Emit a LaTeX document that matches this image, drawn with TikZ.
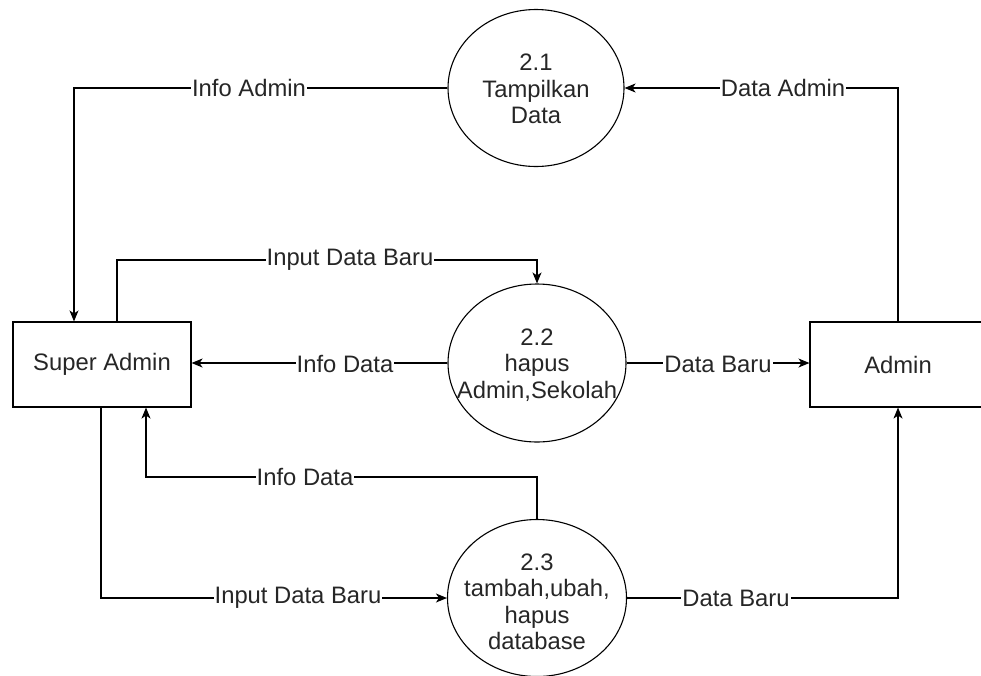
\documentclass[tikz,border=0pt]{standalone}
\usepackage{fontspec}
\setmainfont{Liberation Sans}
\usetikzlibrary{arrows.meta,shapes.geometric}
\definecolor{txt}{HTML}{262626}
\tikzset{
  every picture/.style={x=1pt,y=-1pt},
  lbl/.style={font=\fontsize{23.8}{26.5}\selectfont,text=txt},
  entity/.style={draw,line width=1.1pt,minimum width=178pt,minimum height=85pt,lbl},
  proc/.style={draw,line width=1.1pt,ellipse,inner sep=0pt},
  proctext/.style={align=center,inner sep=0pt,lbl},
  flow/.style={line width=1.1pt,-{Stealth[length=11pt,width=9pt,inset=3pt]}},
  tag/.style={fill=white,inner sep=1pt,lbl}
}
\begin{document}
\begin{tikzpicture}
\useasboundingbox (0,0) rectangle (981,675);
\clip (0,0) rectangle (981,675);

% external entities
\node[entity] (sa) at (102,364.5) {Super Admin};
\node[entity,minimum width=176pt] (ad) at (898,364.5) {Admin};

% processes (outline and text set separately so the text may reach the rim)
\node[proc,minimum width=176pt,minimum height=157pt] (p1) at (536,88) {};
\node[proc,minimum width=178pt,minimum height=158pt] (p2) at (537,363) {};
\node[proc,minimum width=179pt,minimum height=157pt] (p3) at (537,598) {};
\node[proctext] (t1) at (536,89) {2.1\\Tampilkan\\Data};
\node[proctext] (t2) at (537,365) {2.2\\hapus\\Admin,Sekolah};
\node[proctext] (t3) at (537,602) {2.3\\tambah,ubah,\\hapus\\database};

% bend points
\coordinate (c1) at (74,88);
\coordinate (c2a) at (117,260);
\coordinate (c2b) at (537,260);
\coordinate (c3a) at (537,477);
\coordinate (c3b) at (146,477);
\coordinate (c4) at (101,598);
\coordinate (c5) at (898,598);
\coordinate (c6) at (898,88);

% data flows
\draw[flow] (p1.west) -- (c1) -- (c1 |- sa.north);
\draw[flow] (c2a |- sa.north) -- (c2a) -- (c2b) -- (p2.north);
\draw[flow] (p2.west) -- (sa.east |- p2.west);
\draw[flow] (p2.east) -- (ad.west |- p2.east);
\draw[flow] (p3.north) -- (c3a) -- (c3b) -- (c3b |- sa.south);
\draw[flow] (c4 |- sa.south) -- (c4) -- (p3.west);
\draw[flow] (p3.east) -- (c5) -- (c5 |- ad.south);
\draw[flow] (c6 |- ad.north) -- (c6) -- (p1.east);

% flow labels
\node[tag] (l1) at (249,88) {Info Admin};
\node[tag] (l2) at (350,260) {Input Data Baru};
\node[tag] (l3) at (345,364) {Info Data};
\node[tag] (l4) at (718,364) {Data Baru};
\node[tag] (l5) at (305,477) {Info Data};
\node[tag] (l6) at (298,598) {Input Data Baru};
\node[tag] (l7) at (736,598) {Data Baru};
\node[tag] (l8) at (783,88) {Data Admin};
\end{tikzpicture}
\end{document}
